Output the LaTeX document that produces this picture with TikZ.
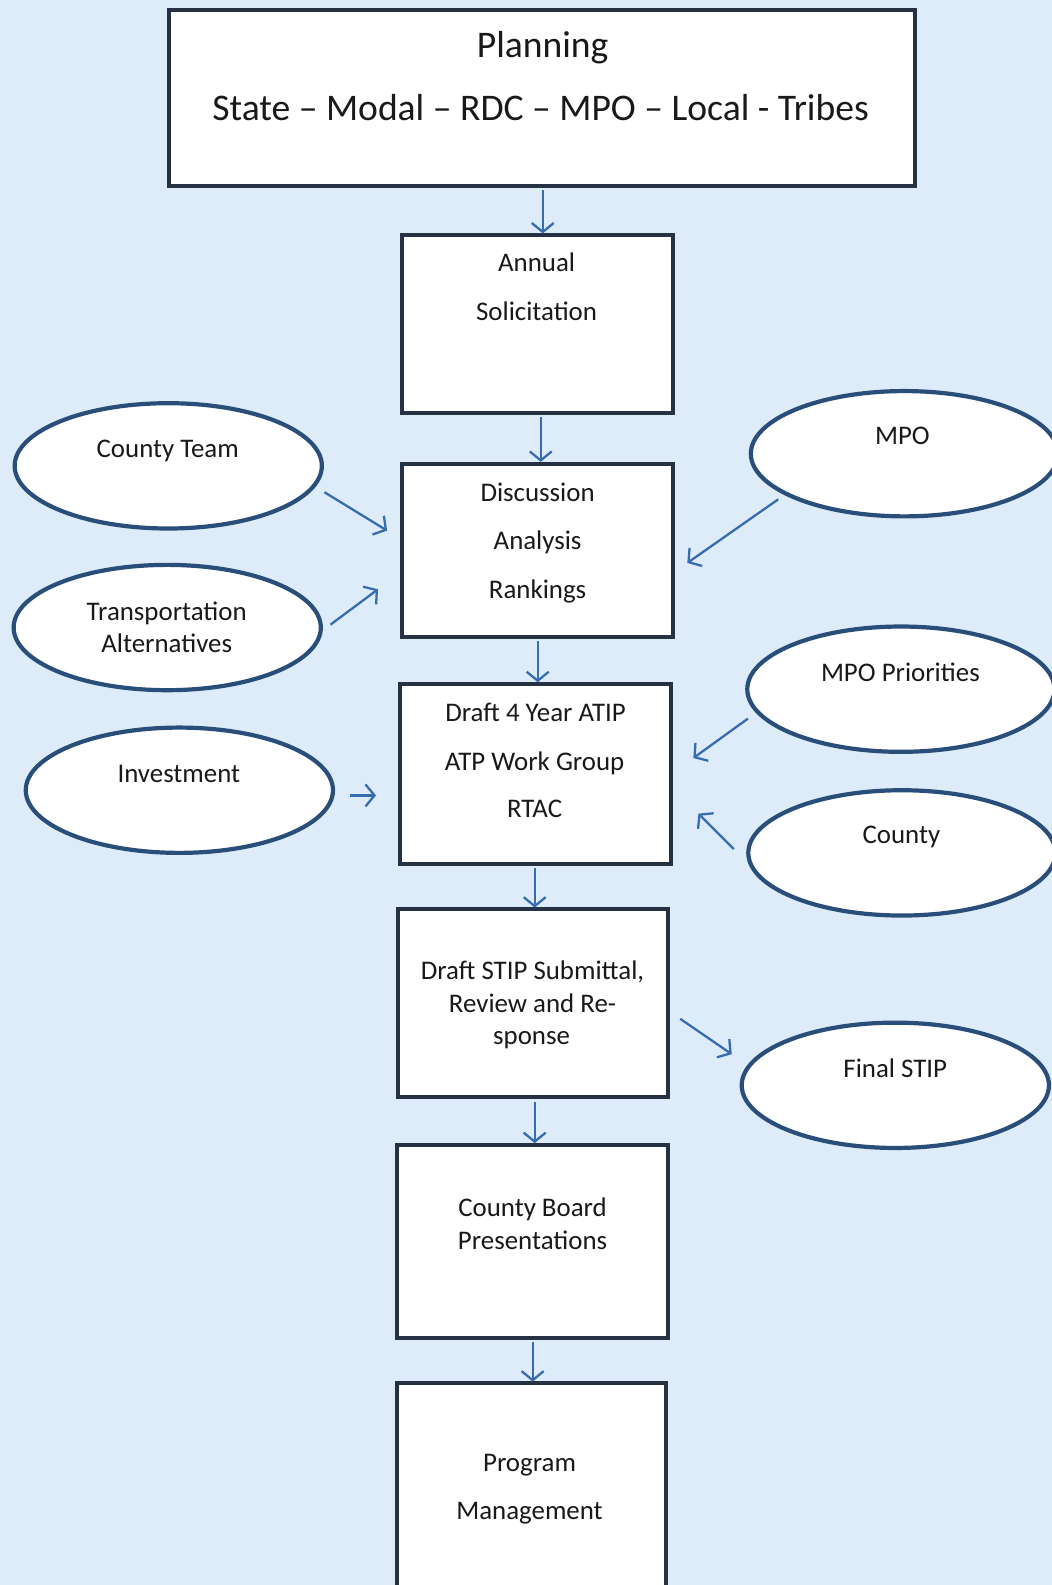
\documentclass[tikz,border=0pt]{standalone}
\usepackage{fontspec}
\setmainfont{Carlito}
\usetikzlibrary{arrows.meta,shapes.geometric}
\definecolor{bgblue}{RGB}{221,236,248}
\definecolor{boxline}{RGB}{38,50,68}
\definecolor{ellline}{RGB}{42,78,122}
\definecolor{arrowblue}{RGB}{56,108,176}
\definecolor{txtcol}{RGB}{25,25,25}
\begin{document}
\begin{tikzpicture}[x=1pt,y=-1pt,scale=1.01057,every node/.append style={transform shape},
  stepbox/.style={draw=boxline,fill=white,line width=4pt,rectangle,inner sep=0pt},
  oval/.style={draw=ellline,fill=white,line width=4.2pt,ellipse,inner sep=0pt,minimum width=304pt,minimum height=124pt},
  txt/.style={anchor=base,inner sep=0pt,text=txtcol,font=\fontsize{26.6}{32}\selectfont},
  bigtxt/.style={anchor=base,inner sep=0pt,text=txtcol,font=\fontsize{37.2}{44}\selectfont},
  arr/.style={draw=arrowblue,line width=2.3pt,-{Straight Barb[length=9pt,width=22pt]}}]
\useasboundingbox (0,0) rectangle (1041,1568.5);
\clip (0,0) rectangle (1041,1568.5);
\fill[bgblue] (0,0) rectangle (1041,1568.5);
% boxes
\node[stepbox,minimum width=738pt,minimum height=174pt] (plan) at (536,97) {};
\node[stepbox,minimum width=268pt,minimum height=176pt] (ann) at (532,321) {};
\node[stepbox,minimum width=268pt,minimum height=171pt] (disc) at (532,544.5) {};
\node[stepbox,minimum width=268pt,minimum height=178pt] (draft) at (530,766) {};
\node[stepbox,minimum width=267pt,minimum height=186pt] (stip) at (527.5,993) {};
\node[stepbox,minimum width=268pt,minimum height=191pt] (cb) at (527,1228.5) {};
\node[stepbox,minimum width=266pt,minimum height=240pt] (prog) at (526,1489) {};
% ellipses
\node[oval] (ct) at (166.5,461) {};
\node[oval] (ta) at (165.5,621) {};
\node[oval] (inv) at (177.5,782) {};
\node[oval] (mpo) at (895,449) {};
\node[oval] (mpop) at (891.5,682) {};
\node[oval] (cty) at (892.5,844) {};
\node[oval] (fin) at (886,1074) {};
% texts
\node[bigtxt] (t1) at (537,57) {Planning};
\node[bigtxt] (t2) at (535,119) {State – Modal – RDC – MPO – Local - Tribes};
\node[txt] (t3) at (531,269) {Annual};
\node[txt] (t4) at (531,317) {Solicitation};
\node[txt] (t5) at (532,496) {Discussion};
\node[txt] (t6) at (532,544) {Analysis};
\node[txt] (t7) at (532,592) {Rankings};
\node[txt] (t8) at (530,714) {Draft 4 Year ATIP};
\node[txt] (t9) at (529,762) {ATP Work Group};
\node[txt] (t10) at (529,809) {RTAC};
\node[txt] (t11) at (527,969) {Draft STIP Submittal,};
\node[txt] (t12) at (527,1002) {Review and Re-};
\node[txt] (t13) at (526,1034) {sponse};
\node[txt] (t14) at (527,1204) {County Board};
\node[txt] (t15) at (527,1236) {Presentations};
\node[txt] (t16) at (524,1456) {Program};
\node[txt] (t17) at (524,1504) {Management};
\node[txt] (t18) at (166,453) {County Team};
\node[txt] (t19) at (165,614) {Transportation};
\node[txt] (t20) at (165,646) {Alternatives};
\node[txt] (t21) at (177,774) {Investment};
\node[txt] (t22) at (893,440) {MPO};
\node[txt] (t23) at (891,674) {MPO Priorities};
\node[txt] (t24) at (892,835) {County};
\node[txt] (t25) at (886,1066) {Final STIP};
% vertical connectors
\draw[arr,shorten <=2pt] ([xshift=1pt]plan.south) -- ([xshift=1pt]plan.south |- ann.north);
\draw[arr,shorten <=2pt] ([xshift=3pt]ann.south) -- ([xshift=3pt]ann.south |- disc.north);
\draw[arr,shorten <=2pt] (disc.south) -- (disc.south |- draft.north);
\draw[arr,shorten <=2pt] ([xshift=-1pt]draft.south) -- ([xshift=-1pt]draft.south |- stip.north);
\draw[arr,shorten <=2pt] ([xshift=1.5pt]stip.south) -- ([xshift=1.5pt]stip.south |- cb.north);
\draw[arr,shorten <=2pt] (cb.south) -- (cb.south |- prog.north);
% side connectors
\coordinate (ctA) at (321,487); \coordinate (ctB) at (383,525);
\coordinate (taA) at (327,618); \coordinate (taB) at (374,583);
\coordinate (invA) at (346,787); \coordinate (invB) at (372,787);
\coordinate (mpoA) at (770,494); \coordinate (mpoB) at (680,557);
\coordinate (mppA) at (740,711); \coordinate (mppB) at (686,750);
\coordinate (ctyA) at (726,840); \coordinate (ctyB) at (691,805);
\coordinate (stA) at (673,1008); \coordinate (stB) at (724,1043);
\draw[arr] (ctA) -- (ctB);
\draw[arr] (taA) -- (taB);
\draw[arr] (invA) -- (invB);
\draw[arr] (mpoA) -- (mpoB);
\draw[arr] (mppA) -- (mppB);
\draw[arr] (ctyA) -- (ctyB);
\draw[arr] (stA) -- (stB);
\end{tikzpicture}
\end{document}
